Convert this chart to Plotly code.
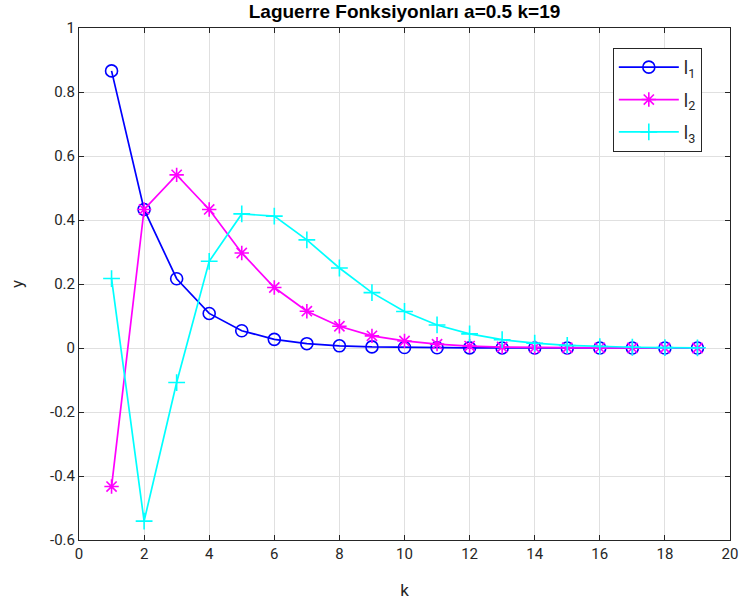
import plotly.graph_objects as go

# Discrete Laguerre functions, a = 0.5, k = 1..19
k = list(range(1, 20))
l1 = [0.866, 0.433, 0.2165, 0.108, 0.054, 0.027, 0.0135, 0.0068, 0.0034, 0.0017,
      0.00085, 0.0004, 0.0002, 0.0001, 0.00005, 0.00003, 0.00001, 0.00001, 0.0]
l2 = [-0.433, 0.433, 0.541, 0.433, 0.297, 0.189, 0.115, 0.068, 0.038, 0.022,
      0.012, 0.006, 0.003, 0.0016, 0.0008, 0.0004, 0.0002, 0.0001, 0.00005]
l3 = [0.217, -0.541, -0.108, 0.271, 0.419, 0.412, 0.338, 0.250, 0.173, 0.114,
      0.072, 0.044, 0.026, 0.015, 0.008, 0.0045, 0.0024, 0.0013, 0.0007]

x_ticks = [0, 2, 4, 6, 8, 10, 12, 14, 16, 18, 20]
y_ticks = [-0.6, -0.4, -0.2, 0, 0.2, 0.4, 0.6, 0.8, 1]
y_labels = ["-0.6", "-0.4", "-0.2", "0", "0.2", "0.4", "0.6", "0.8", "1"]

series = [
    ("l<sub>1</sub>", l1, "#0000ff", "circle-open", 12),
    ("l<sub>2</sub>", l2, "#ff00ff", "asterisk-open", 12),
    ("l<sub>3</sub>", l3, "#00ffff", "cross-thin-open", 12),
]

fig = go.Figure()
for i, (name, vals, col, sym, sz) in enumerate(series):
    fig.add_trace(go.Scatter(
        x=k, y=vals, name=name, mode="lines+markers", legendgroup=f"g{i}",
        line=dict(color=col, width=1.7),
        marker=dict(symbol=sym, size=sz, color=col, line=dict(color=col, width=1.6)),
    ))

tick_font = dict(family="Roboto, Arial, sans-serif", size=15, color="#262626")
axis_common = dict(
    showline=True, linecolor="#262626", linewidth=1, mirror="ticks",
    ticks="inside", ticklen=5, tickcolor="#262626",
    showgrid=True, gridcolor="#e0e0e0", gridwidth=1, zeroline=False,
    tickfont=tick_font, automargin=False,
)

fig.update_layout(
    width=744, height=608,
    margin=dict(l=79, r=14, t=28, b=68),
    paper_bgcolor="white", plot_bgcolor="white",
    title=dict(text="<b>Laguerre Fonksiyonları a=0.5 k=19</b>",
               font=dict(family="Liberation Sans, Arial, sans-serif", size=19, color="black"),
               x=0.5, xref="paper", xanchor="center", y=1, yref="container", yanchor="top", pad=dict(t=5)),
    xaxis=dict(range=[0, 20], tickvals=x_ticks, ticktext=[str(v) for v in x_ticks],
               title=dict(text="k", font=dict(family="Roboto, Arial, sans-serif", size=17, color="#262626"), standoff=22),
               **axis_common),
    yaxis=dict(range=[-0.6, 1], tickvals=y_ticks, ticktext=y_labels,
               title=dict(text="y", font=dict(family="Roboto, Arial, sans-serif", size=17, color="#262626"), standoff=22),
               **axis_common),
    legend=dict(x=0.82, y=0.961, xanchor="left", yanchor="top",
                bgcolor="white", bordercolor="#262626", borderwidth=1,
                font=dict(family="Roboto, Arial, sans-serif", size=18, color="#262626"),
                traceorder="grouped", tracegroupgap=6, itemwidth=60),
    showlegend=True,
)

fig.write_html("out.html")
